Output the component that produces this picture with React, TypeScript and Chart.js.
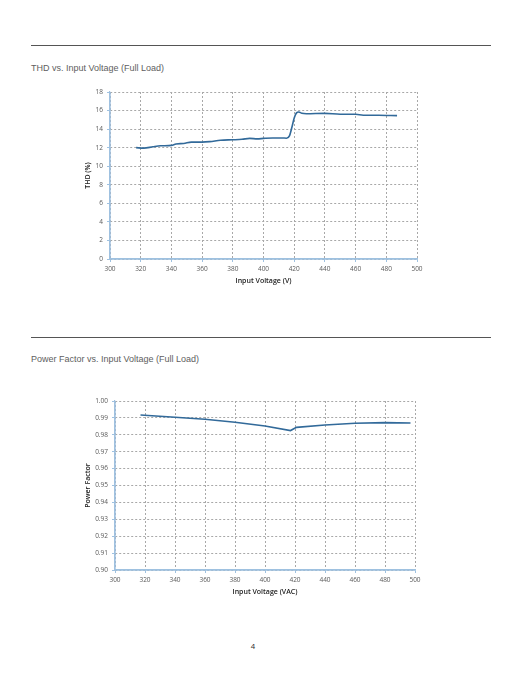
import React, { useEffect, useRef } from "react";
import Chart from "chart.js/auto";

// THD vs Input Voltage
const thdVoltage = [317, 322, 328, 333, 340, 343, 348, 353, 360, 365, 372, 380, 386, 391, 396, 400, 406, 412, 415, 417, 418.5, 420, 421.5, 423, 425, 428, 440, 450, 460, 465, 475, 487];
const thdValues = [12.0, 11.95, 12.1, 12.2, 12.25, 12.4, 12.45, 12.6, 12.6, 12.65, 12.8, 12.85, 12.9, 13.0, 12.95, 13.0, 13.05, 13.05, 13.02, 13.3, 14.2, 15.2, 15.75, 15.85, 15.7, 15.65, 15.7, 15.6, 15.6, 15.5, 15.5, 15.45];
const thdYTicks = { min: 0, max: 18, step: 2 };

// Power Factor vs Input Voltage
const pfVoltage = [317, 340, 360, 380, 400, 417, 421, 440, 460, 480, 497];
const pfValues = [0.9917, 0.9904, 0.9892, 0.9874, 0.9852, 0.9825, 0.9844, 0.9858, 0.9868, 0.9872, 0.987];
const pfYTicks = { min: 0.9, max: 1.0, step: 0.01 };

const xTicks = { min: 300, max: 500, step: 20 };

const LINE = "#326a9a";
const AXIS = "#9fc1e0";
const GRID = "#a8a8a8";
const TICK_TXT = "#595959";
const FONT = "'Open Sans', 'DejaVu Sans', sans-serif";

function makeConfig(
  xs: number[],
  ys: number[],
  yT: { min: number; max: number; step: number },
  xTitle: string,
  yTitle: string,
  yWidth: number,
  padTop: number,
  padRight: number,
  smooth: boolean,
  yDecimals: number
): any {
  return {
    type: "line",
    data: {
      datasets: [
        {
          data: xs.map((x, i) => ({ x, y: ys[i] })),
          borderColor: LINE,
          borderWidth: 1.6,
          pointRadius: 0,
          fill: false,
          cubicInterpolationMode: smooth ? "monotone" : "default",
          tension: 0,
        },
      ],
    },
    options: {
      animation: false,
      responsive: false,
      maintainAspectRatio: false,
      devicePixelRatio: 1,
      layout: { padding: { top: padTop, right: padRight, left: 0, bottom: 0 } },
      plugins: { legend: { display: false }, tooltip: { enabled: false }, title: { display: false } },
      scales: {
        x: {
          type: "linear",
          min: xTicks.min,
          max: xTicks.max,
          afterFit: (s: any) => {
            s.height = 31;
          },
          ticks: {
            stepSize: xTicks.step,
            color: TICK_TXT,
            font: { family: FONT, size: 6.5 },
            padding: 3,
            maxRotation: 0,
            autoSkip: false,
          },
          grid: {
            color: GRID,
            lineWidth: 1,
            tickLength: 3,
            tickColor: AXIS,
            tickBorderDash: [],
          },
          border: { display: true, color: AXIS, width: 1.2, dash: [2, 2] },
          title: {
            display: true,
            text: xTitle,
            color: "#222",
            font: { family: FONT, size: 7, weight: "600" },
            padding: { top: 0, bottom: 4.5 },
          },
        },
        y: {
          type: "linear",
          min: yT.min,
          max: yT.max,
          afterFit: (s: any) => {
            s.width = yWidth;
          },
          ticks: {
            stepSize: yT.step,
            color: TICK_TXT,
            font: { family: FONT, size: 6.5 },
            padding: 4,
            callback: (v: any) => Number(v).toFixed(yDecimals),
          },
          grid: {
            color: GRID,
            lineWidth: 1,
            tickLength: 3,
            tickColor: AXIS,
            tickBorderDash: [],
          },
          border: { display: true, color: AXIS, width: 1.2, dash: [2, 2] },
          title: {
            display: true,
            text: yTitle,
            color: "#222",
            font: { family: FONT, size: 7, weight: "600" },
            padding: { top: 4, bottom: 0 },
          },
        },
      },
    },
  };
}

function ChartCanvas(props: { config: any; left: number; top: number; width: number; height: number }) {
  const ref = useRef<HTMLCanvasElement | null>(null);
  useEffect(() => {
    if (!ref.current) return;
    const cfg = props.config;
    cfg.options.scales.x.grid.borderDash = [2.5, 2];
    cfg.options.scales.y.grid.borderDash = [2.5, 2];
    cfg.plugins = [
      {
        id: "axisLines",
        afterDraw(chart: any) {
          const { ctx, chartArea } = chart;
          ctx.save();
          ctx.strokeStyle = AXIS;
          ctx.lineWidth = 1.3;
          ctx.setLineDash([]);
          ctx.beginPath();
          ctx.moveTo(chartArea.left, chartArea.top);
          ctx.lineTo(chartArea.left, chartArea.bottom);
          ctx.lineTo(chartArea.right, chartArea.bottom);
          ctx.stroke();
          ctx.restore();
        },
      },
    ];
    const chart = new Chart(ref.current, cfg);
    return () => chart.destroy();
  }, []);
  return (
    <canvas
      ref={ref}
      width={props.width}
      height={props.height}
      style={{ position: "absolute", left: props.left, top: props.top, width: props.width, height: props.height }}
    />
  );
}

const titleStyle: React.CSSProperties = {
  position: "absolute",
  left: 31,
  fontFamily: "'Liberation Sans', Arial, sans-serif",
  fontSize: 9,
  lineHeight: "12px",
  color: "#606060",
  whiteSpace: "nowrap",
};

export default function App() {
  const cfg1 = makeConfig(thdVoltage, thdValues, thdYTicks, "Input Voltage (V)", "THD (%)", 30, 12, 33, true, 0);
  const cfg2 = makeConfig(pfVoltage, pfValues, pfYTicks, "Input Voltage (VAC)", "Power Factor", 35, 11, 35, false, 2);
  return (
    <div style={{ position: "absolute", left: 0, top: 0, width: 522, height: 676, background: "#fff", overflow: "hidden" }}>
      <div style={{ position: "absolute", left: 31, top: 45, width: 460, height: 1, background: "#555" }} />
      <div style={{ ...titleStyle, top: 61.5 }}>THD vs. Input Voltage (Full Load)</div>
      <ChartCanvas config={cfg1} left={80} top={80} width={370} height={210} />
      <div style={{ position: "absolute", left: 31, top: 337, width: 460, height: 1, background: "#555" }} />
      <div style={{ ...titleStyle, top: 353 }}>Power Factor vs. Input Voltage (Full Load)</div>
      <ChartCanvas config={cfg2} left={80} top={390} width={370} height={211} />
      <div
        style={{
          position: "absolute",
          left: 248,
          top: 641,
          width: 10,
          textAlign: "center",
          fontFamily: "'Liberation Sans', Arial, sans-serif",
          fontSize: 8,
          lineHeight: "12px",
          color: "#333333",
        }}
      >
        4
      </div>
    </div>
  );
}
